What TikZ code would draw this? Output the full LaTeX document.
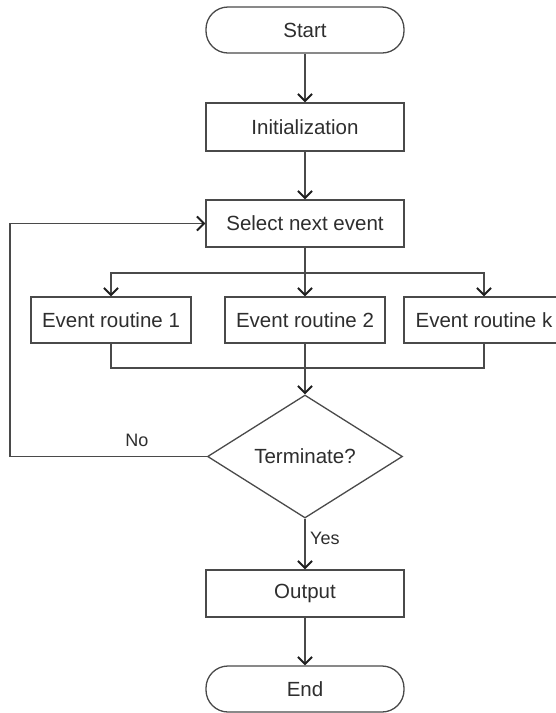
\documentclass[tikz,border=0pt]{standalone}
\usepackage{fontspec}
\setmainfont{Liberation Sans}
\usetikzlibrary{shapes.geometric,arrows.meta}
\definecolor{ln}{HTML}{4A4A4A}
\definecolor{tip}{HTML}{1E1E1E}
\definecolor{tx}{HTML}{2E2E2E}
\tikzset{
  x=1pt,y=-1pt,
  base/.style={draw=ln,line width=1.3pt,text=tx,font=\fontsize{20.5}{24}\selectfont,inner sep=0pt},
  term/.style={base,rounded corners=22pt,minimum width=198pt,minimum height=46pt},
  proc/.style={base,rectangle,minimum width=198pt,minimum height=47pt},
  rout/.style={base,rectangle,minimum width=160pt,minimum height=46pt},
  dec/.style={base,diamond,aspect=1.6,minimum width=195pt,minimum height=123pt},
  conn/.style={draw=ln,line width=1.3pt},
  arr/.style={conn,-{Straight Barb[length=7pt,width=14pt,line width=2pt,color=tip]}},
  lbl/.style={text=tx,font=\fontsize{18}{21}\selectfont,inner sep=0pt}
}
\begin{document}
\begin{tikzpicture}
\useasboundingbox (0,0) rectangle (556,713);
\fill[white] (0,0) rectangle (556,713);
\begin{scope}
\clip (0,0) rectangle (556,713);
\node[term] (start) at (305,30) {Start};
\node[proc,minimum height=48pt] (init) at (305,127) {Initialization};
\node[proc] (select) at (305,223.5) {Select next event};
\node[rout] (er1) at (111,320) {Event routine 1};
\node[rout] (er2) at (305,320) {Event routine 2};
\node[rout] (erk) at (484,320) {Event routine k};
\node[dec] (term) at (305,456.5) {Terminate?};
\node[proc] (out) at (305,593.5) {Output};
\node[term] (end) at (305,689) {End};
\coordinate (bm) at (305,273);
\coordinate (mm) at (305,368);
\coordinate (lc) at (10,456.5);
\draw[arr] (start) -- (init);
\draw[arr] (init) -- (select);
\draw[conn] (select.south) -- (bm);
\draw[arr] (bm) -| (er1.north);
\draw[arr] (bm) -- (er2.north);
\draw[arr] (bm) -| (erk.north);
\draw[conn] (er1.south) |- (mm);
\draw[conn] (erk.south) |- (mm);
\draw[arr] (er2.south) -- (term.north);
\draw[arr] (term.west) -- (lc) |- (select.west);
\draw[arr] (term.south) -- (out.north);
\draw[arr] (out) -- (end);
\node[lbl] (no) at (137,440) {No};
\node[lbl,anchor=west] (yes) at (310,538) {Yes};
\end{scope}
\end{tikzpicture}
\end{document}
